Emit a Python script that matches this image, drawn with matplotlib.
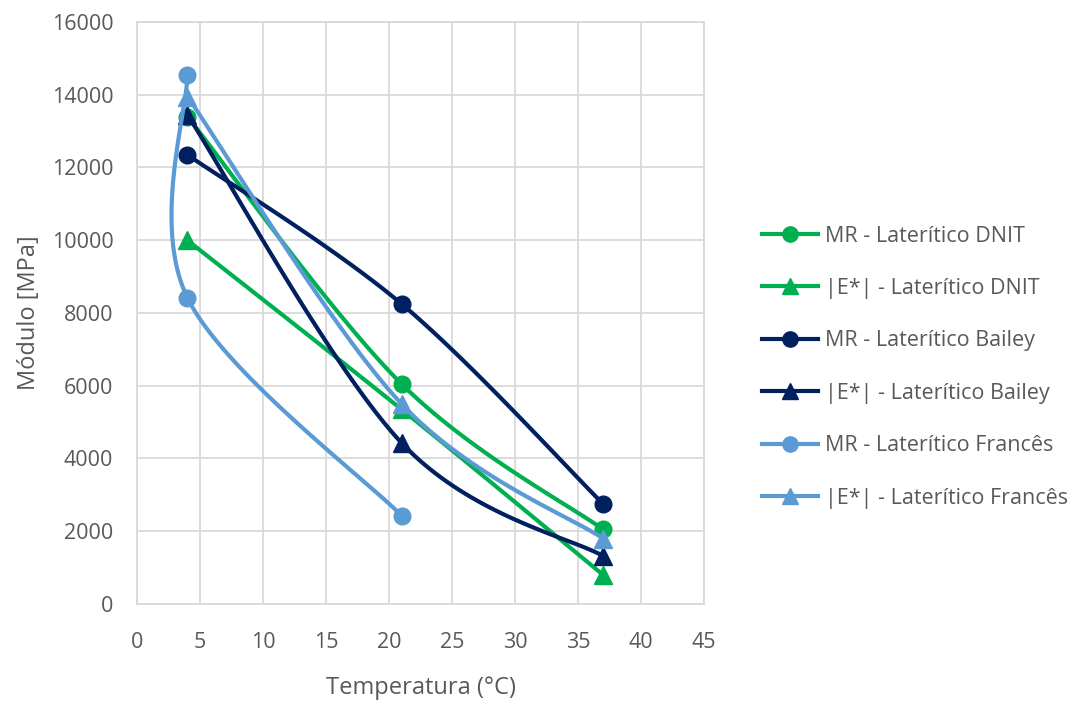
import numpy as np
import matplotlib
matplotlib.use("Agg")
import matplotlib.pyplot as plt
from matplotlib.lines import Line2D

plt.rcParams['font.family'] = ['Open Sans', 'DejaVu Sans']

# data
names = ["MR - Laterítico DNIT", "|E*| - Laterítico DNIT",
         "MR - Laterítico Bailey", "|E*| - Laterítico Bailey",
         "MR - Laterítico Francês", "|E*| - Laterítico Francês"]
temps = [[4, 21, 37], [4, 21, 37], [4, 21, 37], [4, 21, 37],
         [4, 4, 21], [4, 21, 37]]
mr_dnit = [13400, 6050, 2050]
e_dnit = [10000, 5350, 800]
mr_bailey = [12350, 8250, 2750]
e_bailey = [13450, 4430, 1320]
mr_frances = [14550, 8420, 2430]
e_frances = [13950, 5500, 1800]
values = [mr_dnit, e_dnit, mr_bailey, e_bailey, mr_frances, e_frances]
colors = ["#00B050", "#00B050", "#002060", "#002060", "#5B9BD5", "#5B9BD5"]
markers = ["o", "^", "o", "^", "o", "^"]

GRAY = "#595959"


def smooth(ax, xs, ys, n=60):
    # excel-like smoothed line, done in pixel space
    pts = ax.transData.transform(np.column_stack([xs, ys]))
    m = len(pts)
    out = []
    for i in range(m - 1):
        p0 = pts[max(i - 1, 0)]
        p1 = pts[i]
        p2 = pts[i + 1]
        p3 = pts[min(i + 2, m - 1)]
        c1 = p1 + (p2 - p0) / 6.0
        c2 = p2 - (p3 - p1) / 6.0
        t = np.linspace(0, 1, n)[:, None]
        seg = ((1 - t) ** 3 * p1 + 3 * (1 - t) ** 2 * t * c1
               + 3 * (1 - t) * t ** 2 * c2 + t ** 3 * p2)
        out.append(seg)
    out = np.vstack(out)
    back = ax.transData.inverted().transform(out)
    return back[:, 0], back[:, 1]


fig = plt.figure(figsize=(10.88, 7.02), dpi=100)
ax = fig.add_axes([0.1259, 0.1396, 0.5211, 0.8291])
ax.set_xlim(0, 45)
ax.set_ylim(0, 16000)
ax.set_xticks(np.arange(0, 46, 5))
ax.set_yticks(np.arange(0, 16001, 2000))
ax.grid(True, color="#d9d9d9", linewidth=1.3)
ax.set_axisbelow(True)
for s in ax.spines.values():
    s.set_color("#d9d9d9")
    s.set_linewidth(1.3)
ax.tick_params(axis="both", length=0, labelsize=15.5, colors=GRAY)
ax.tick_params(axis="y", pad=17)
ax.tick_params(axis="x", pad=20)

handles = []
for k in range(len(names)):
    sx, sy = smooth(ax, temps[k], values[k])
    ax.plot(sx, sy, color=colors[k], lw=3, solid_capstyle="round", zorder=3 + k)
    ms = 12 if markers[k] == "o" else 12.5
    ax.plot(temps[k], values[k], linestyle="none", marker=markers[k],
            ms=ms, color=colors[k], zorder=3 + k)
    handles.append(Line2D([], [], color=colors[k], lw=3, marker=markers[k],
                          ms=11))

ax.set_xlabel("Temperatura (°C)", fontsize=17, color=GRAY, labelpad=17)
ax.set_ylabel("Módulo [MPa]", fontsize=17, color=GRAY, labelpad=8)

fig.legend(handles, names, loc="center left", bbox_to_anchor=(0.683, 0.477),
           frameon=False, fontsize=15.5, labelcolor=GRAY, handlelength=2.6,
           labelspacing=1.46, handletextpad=0.3)

fig.savefig("out.png", dpi=100)
